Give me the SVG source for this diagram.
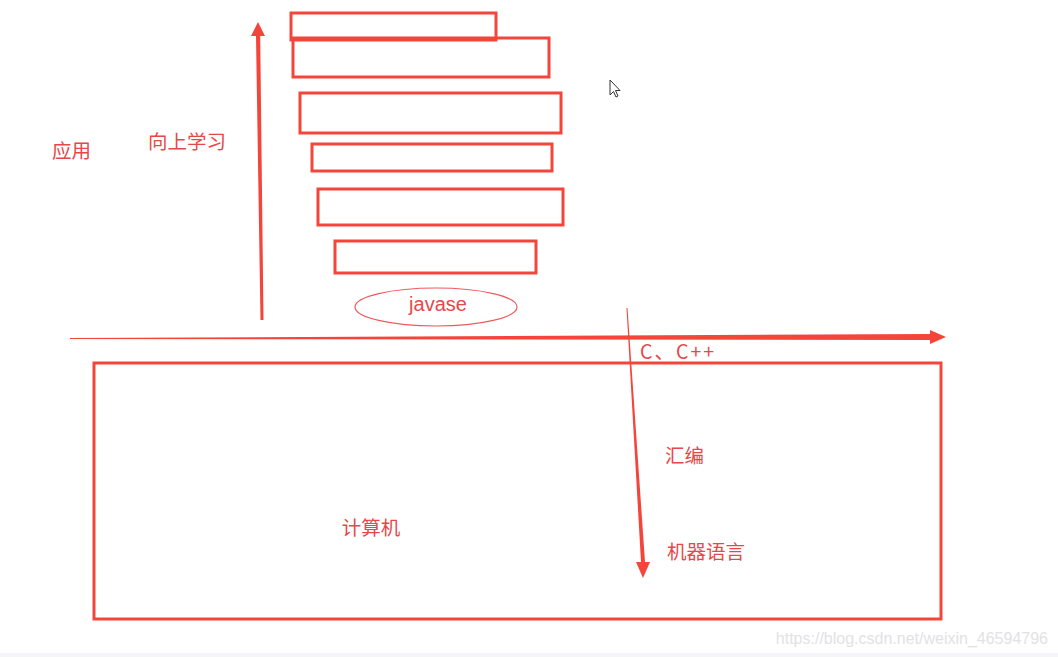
<svg xmlns="http://www.w3.org/2000/svg" width="1058" height="657" viewBox="0 0 1058 657">
<style>
.box{fill:none;stroke:#f4453b;stroke-width:3}
.lbl{font-family:"Noto Sans CJK SC","Noto Sans",sans-serif;font-size:19.5px;fill:#e8474a}
.arr{fill:#f4453b}
</style>
<rect x="0" y="0" width="1058" height="657" fill="#ffffff"/>
<rect x="0" y="653" width="1058" height="4" fill="#f5f5f7"/>
<g id="layers">
<rect id="layer1" class="box" x="291" y="13" width="205" height="27"/>
<rect id="layer2" class="box" x="293" y="38" width="256" height="39"/>
<rect id="layer3" class="box" x="300" y="93" width="261" height="40"/>
<rect id="layer4" class="box" x="312" y="144" width="240" height="27"/>
<rect id="layer5" class="box" x="318" y="189" width="245" height="36"/>
<rect id="layer6" class="box" x="335" y="241" width="201" height="32"/>
</g>
<g id="javase">
<ellipse cx="436" cy="307" rx="81" ry="19" fill="none" stroke="#ee5a5e" stroke-width="1.2"/>
<text class="lbl" x="438" y="311" text-anchor="middle" style="font-family:'Liberation Sans',sans-serif;font-size:20px">javase</text>
</g>
<g id="computer">
<rect class="box" x="94" y="363" width="847" height="256"/>
<text class="lbl" x="371" y="535" text-anchor="middle">计算机</text>
</g>
<g id="connectors">
<path class="arr" d="M260.5 320 L263.5 320 L260.2 36 L265 36 L258 22 L251 36 L256 36 Z"/>
<path class="arr" d="M70 339 L70 338 L930 334 L930 330 L946 337 L930 344 L930 340 Z"/>
<path class="arr" d="M626.5 308 L627.5 308 L645 562 L650 562 L643 578 L636 562 L641 562 Z"/>
</g>
<g id="labels">
<text class="lbl" x="52" y="158">应用</text>
<text class="lbl" x="148" y="149">向上学习</text>
<text class="lbl" x="640" y="359" style="letter-spacing:2px">C、C++</text>
<text class="lbl" x="665" y="463">汇编</text>
<text class="lbl" x="667" y="559">机器语言</text>
</g>
<path d="M610 80 L610 95 L613.5 91.5 L616 97 L618 96 L615.5 90.5 L620 90.5 Z" fill="#ffffff" stroke="#333" stroke-width="1"/>
<text x="1048" y="644" text-anchor="end" style="font-family:'Liberation Sans',sans-serif;font-size:16px;fill:#e2e2e4">https://blog.csdn.net/weixin_46594796</text>
</svg>
